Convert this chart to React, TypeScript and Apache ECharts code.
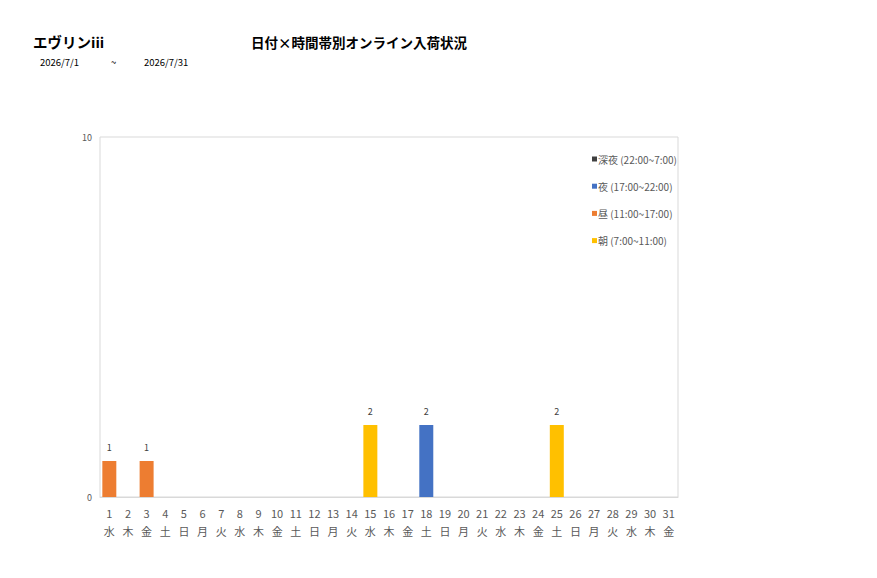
import { useRef, useEffect } from 'react';
import * as echarts from 'echarts';

const days = Array.from({ length: 31 }, (_, i) => String(i + 1));
const weekdays = [
  '水', '木', '金', '土', '日', '月', '火',
  '水', '木', '金', '土', '日', '月', '火',
  '水', '木', '金', '土', '日', '月', '火',
  '水', '木', '金', '土', '日', '月', '火',
  '水', '木', '金',
];
const seriesNames = ['深夜 (22:00~7:00)', '夜 (17:00~22:00)', '昼 (11:00~17:00)', '朝 (7:00~11:00)'];
const lateNight = [0, 0, 0, 0, 0, 0, 0, 0, 0, 0, 0, 0, 0, 0, 0, 0, 0, 0, 0, 0, 0, 0, 0, 0, 0, 0, 0, 0, 0, 0, 0];
const night = [0, 0, 0, 0, 0, 0, 0, 0, 0, 0, 0, 0, 0, 0, 0, 0, 0, 2, 0, 0, 0, 0, 0, 0, 0, 0, 0, 0, 0, 0, 0];
const daytime = [1, 0, 1, 0, 0, 0, 0, 0, 0, 0, 0, 0, 0, 0, 0, 0, 0, 0, 0, 0, 0, 0, 0, 0, 0, 0, 0, 0, 0, 0, 0];
const morning = [0, 0, 0, 0, 0, 0, 0, 0, 0, 0, 0, 0, 0, 0, 2, 0, 0, 0, 0, 0, 0, 0, 0, 0, 2, 0, 0, 0, 0, 0, 0];
const colors = ['#404040', '#4472C4', '#ED7D31', '#FFC000'];

const FONT = '"Noto Sans CJK JP", "Noto Sans", sans-serif';

export default function App() {
  const chartRef = useRef<HTMLDivElement>(null);
  useEffect(() => {
    let chart: echarts.ECharts | undefined;
    if (chartRef.current) {
      chart = echarts.init(chartRef.current, undefined, { renderer: 'svg' });
      const values = [lateNight, night, daytime, morning];
      chart.setOption({
        animation: false,
        textStyle: { fontFamily: FONT },
        color: colors,
        graphic: [
          { type: 'text', left: 33, top: 34, style: { text: 'エヴリンiii', fontSize: 14.5, fontWeight: 'bold', fill: '#000', fontFamily: FONT } },
          { type: 'text', left: 251, top: 35, style: { text: '日付×時間帯別オンライン入荷状況', fontSize: 13.5, fontWeight: 'bold', fill: '#000', fontFamily: FONT } },
          { type: 'text', left: 40, top: 57, style: { text: '2026/7/1', fontSize: 9.5, fill: '#000', fontFamily: FONT } },
          { type: 'text', left: 111, top: 57, style: { text: '~', fontSize: 9.5, fill: '#000', fontFamily: FONT } },
          { type: 'text', left: 144, top: 57, style: { text: '2026/7/31', fontSize: 9.5, fill: '#000', fontFamily: FONT } },
        ],
        legend: {
          orient: 'vertical',
          left: 587,
          top: 149,
          itemWidth: 5,
          itemHeight: 5,
          itemGap: 17.2,
          icon: 'rect',
          textStyle: { fontSize: 10, color: '#595959', padding: [0, 0, 0, -4] },
          data: seriesNames,
        },
        grid: {
          left: 100,
          top: 137,
          width: 578,
          height: 360,
          show: true,
          borderColor: '#d9d9d9',
          borderWidth: 1,
        },
        xAxis: {
          type: 'category',
          data: days.map((d, i) => d + '\n' + weekdays[i]),
          axisLine: { lineStyle: { color: '#d9d9d9' } },
          axisTick: { show: false },
          axisLabel: { color: '#595959', fontSize: 11, interval: 0, lineHeight: 18, margin: 7 },
        },
        yAxis: {
          type: 'value',
          min: 0,
          max: 10,
          interval: 10,
          splitLine: { show: false },
          axisLine: { show: false },
          axisLabel: { color: '#595959', fontSize: 9, margin: 8 },
        },
        series: seriesNames.map((name, i) => ({
          name,
          type: 'bar',
          stack: 'total',
          barWidth: '75%',
          data: values[i],
          label: {
            show: true,
            position: 'top',
            fontSize: 9,
            color: '#404040',
            distance: 9,
            formatter: (p: { value: number }) => (p.value > 0 ? String(p.value) : ''),
          },
        })),
      });
    }
    return () => {
      chart?.dispose();
    };
  }, []);

  return (
    <div
      ref={chartRef}
      style={{ position: 'fixed', left: 0, top: 0, width: 877, height: 578, background: '#fff' }}
    />
  );
}
